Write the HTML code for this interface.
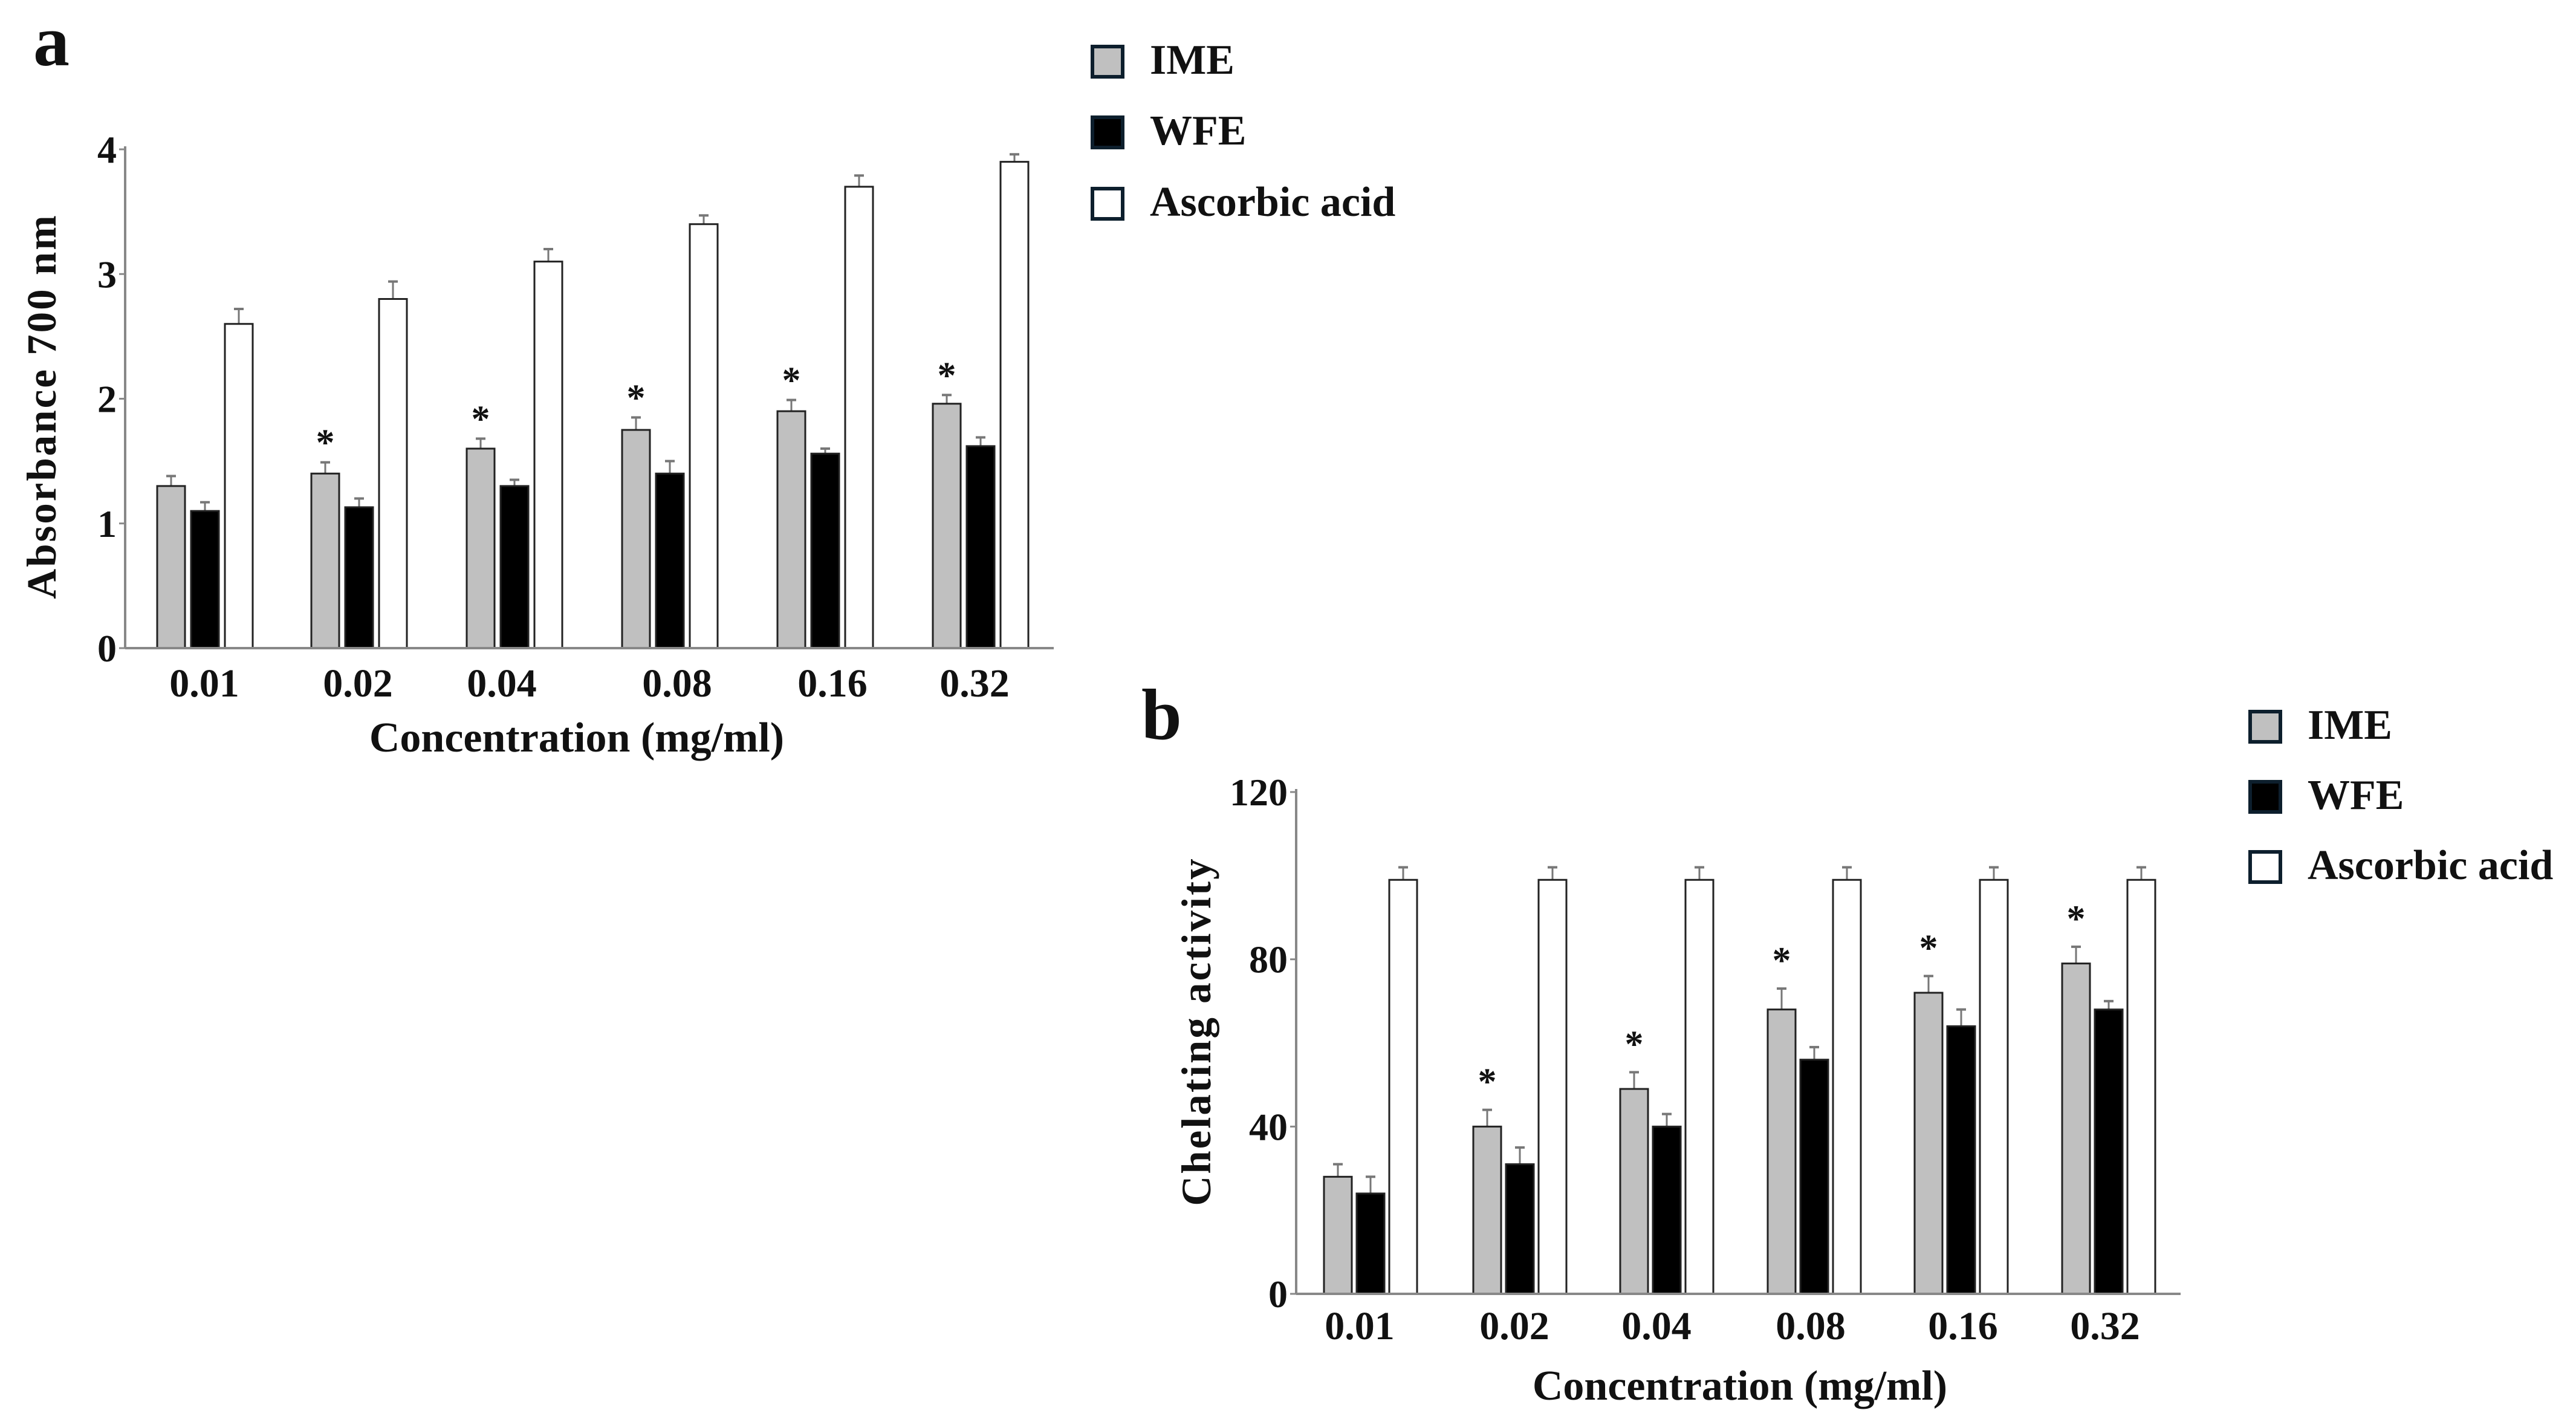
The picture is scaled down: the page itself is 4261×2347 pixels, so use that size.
<!DOCTYPE html>
<html><head><meta charset="utf-8"><style>
html,body{margin:0;padding:0;background:#fff}
svg{display:block}
text{font-family:"Liberation Serif",serif;fill:#111}
</style></head><body>
<svg id="svg" width="4261" height="2347" viewBox="0 0 4261 2347" xmlns="http://www.w3.org/2000/svg">
<text x="55" y="108" font-size="120" font-weight="bold">a</text>
<text x="1888" y="1222" font-size="120" font-weight="bold">b</text>
<g id="chartA"></g>
<g id="chartB"></g>
</svg>
<script>
const categories = ["0.01","0.02","0.04","0.08","0.16","0.32"];
const seriesNames = ["IME","WFE","Ascorbic acid"];
const aIME = [1.3,1.4,1.6,1.75,1.9,1.96];
const aIMEerr = [0.08,0.09,0.08,0.1,0.09,0.07];
const aWFE = [1.1,1.13,1.3,1.4,1.56,1.62];
const aWFEerr = [0.07,0.07,0.05,0.1,0.04,0.07];
const aAA = [2.6,2.8,3.1,3.4,3.7,3.9];
const aAAerr = [0.12,0.14,0.1,0.07,0.09,0.06];
const aStars = [false,true,true,true,true,true];
const aTicks = [0,1,2,3,4];
const bIME = [28,40,49,68,72,79];
const bIMEerr = [3,4,4,5,4,4];
const bWFE = [24,31,40,56,64,68];
const bWFEerr = [4,4,3,3,4,2];
const bAA = [99,99,99,99,99,99];
const bAAerr = [3,3,3,3,3,3];
const bStars = [false,true,true,true,true,true];
const bTicks = [0,40,80,120];

const NS="http://www.w3.org/2000/svg";
function mk(parent,tag,attrs,txt){const e=document.createElementNS(NS,tag);for(const k in attrs)e.setAttribute(k,attrs[k]);if(txt!==undefined)e.textContent=txt;parent.appendChild(e);return e;}

function drawChart(g,cfg){
  const y=v=>cfg.y0-(v/cfg.max)*(cfg.y0-cfg.yTop);
  const fills=["#c0c0c0","#000","#fff"];
  const vals=[cfg.ime,cfg.wfe,cfg.aa], errs=[cfg.imeE,cfg.wfeE,cfg.aaE];
  const names=["ime","wfe","ascorbic"];
  const ya=mk(g,"line",{x1:cfg.ax,y1:cfg.yTop-5,x2:cfg.ax,y2:cfg.y0,stroke:"#888","stroke-width":4});
  
  
  cfg.ticks.forEach(t=>{
    const tl=mk(g,"line",{x1:cfg.ax-10,y1:y(t),x2:cfg.ax,y2:y(t),stroke:"#888","stroke-width":3});
    
    
    const tx=mk(g,"text",{x:cfg.ax-14,y:y(t)+22,"font-size":64,"font-weight":"bold","text-anchor":"end"},String(t));
    
    
  });
  categories.forEach((c,i)=>{
    const left=cfg.starts[i];
    for(let s=0;s<3;s++){
      const x=left+s*cfg.step, v=vals[s][i], e=errs[s][i];
      const cx=x+cfg.bw/2;
      const el=mk(g,"line",{x1:cx,y1:y(v),x2:cx,y2:y(v+e),stroke:"#777","stroke-width":3});
      
      
      const cap=mk(g,"line",{x1:cx-8,y1:y(v+e),x2:cx+8,y2:y(v+e),stroke:"#777","stroke-width":4});
      
      
      const r=mk(g,"rect",{x:x,y:y(v),width:cfg.bw,height:cfg.y0-y(v),fill:fills[s],stroke:"#222","stroke-width":3});
      
      
    }
    if(cfg.stars[i]){
      const st=mk(g,"text",{x:left+cfg.bw/2,y:y(cfg.ime[i]+cfg.imeE[i])-cfg.starOff,"font-size":62,"font-weight":"bold","text-anchor":"middle"},"*");
      
      
    }
    const lx=mk(g,"text",{x:cfg.labX[i],y:cfg.labY,"font-size":66,"font-weight":"bold","text-anchor":"middle"},c);
    
    
  });
  const xa=mk(g,"line",{x1:cfg.ax,y1:cfg.y0,x2:cfg.axEnd,y2:cfg.y0,stroke:"#888","stroke-width":4});
  
  
  const xt=mk(g,"text",{x:cfg.xtX,y:cfg.xtY,"font-size":70,"font-weight":"bold","text-anchor":"middle"},"Concentration (mg/ml)");
  
  
  const yt=mk(g,"text",{x:0,y:0,"font-size":69,"font-weight":"bold","text-anchor":"middle","letter-spacing":3,transform:`translate(${cfg.ytX},${cfg.ytY}) rotate(-90)`},cfg.yTitle);
  
  
  seriesNames.forEach((n,s)=>{
    const ly=cfg.legY[s];
    const lr=mk(g,"rect",{x:cfg.legX,y:ly,width:50,height:50,fill:fills[s],stroke:"#0d1f2d","stroke-width":6});
    
    
    const lt=mk(g,"text",{x:cfg.legX+95,y:ly+45,"font-size":70,"font-weight":"bold"},n);
    
    
  });
}
drawChart(document.getElementById("chartA"),{
  ime:aIME,imeE:aIMEerr,wfe:aWFE,wfeE:aWFEerr,aa:aAA,aaE:aAAerr,stars:aStars,ticks:aTicks,max:4,
  ax:207,axEnd:1743,y0:1072,yTop:247,starts:[260,515,772,1029,1286,1543],step:56,bw:46,starOff:12,
  labX:[338,592,830,1120,1377,1612],labY:1152,xtX:954,xtY:1243,ytX:92,ytY:672,yTitle:"Absorbance 700 nm",
  legX:1807,legY:[77,194,312]
});
drawChart(document.getElementById("chartB"),{
  ime:bIME,imeE:bIMEerr,wfe:bWFE,wfeE:bWFEerr,aa:bAA,aaE:bAAerr,stars:bStars,ticks:bTicks,max:120,
  ax:2144,axEnd:3607,y0:2140,yTop:1310,starts:[2190,2437,2680,2924,3167,3411],step:54,bw:46,starOff:26,
  labX:[2249,2505,2740,2995,3247,3482],labY:2215,xtX:2878,xtY:2315,ytX:2002,ytY:1706,yTitle:"Chelating activity",
  legX:3722,legY:[1177,1293,1409]
});
</script>
</body></html>
